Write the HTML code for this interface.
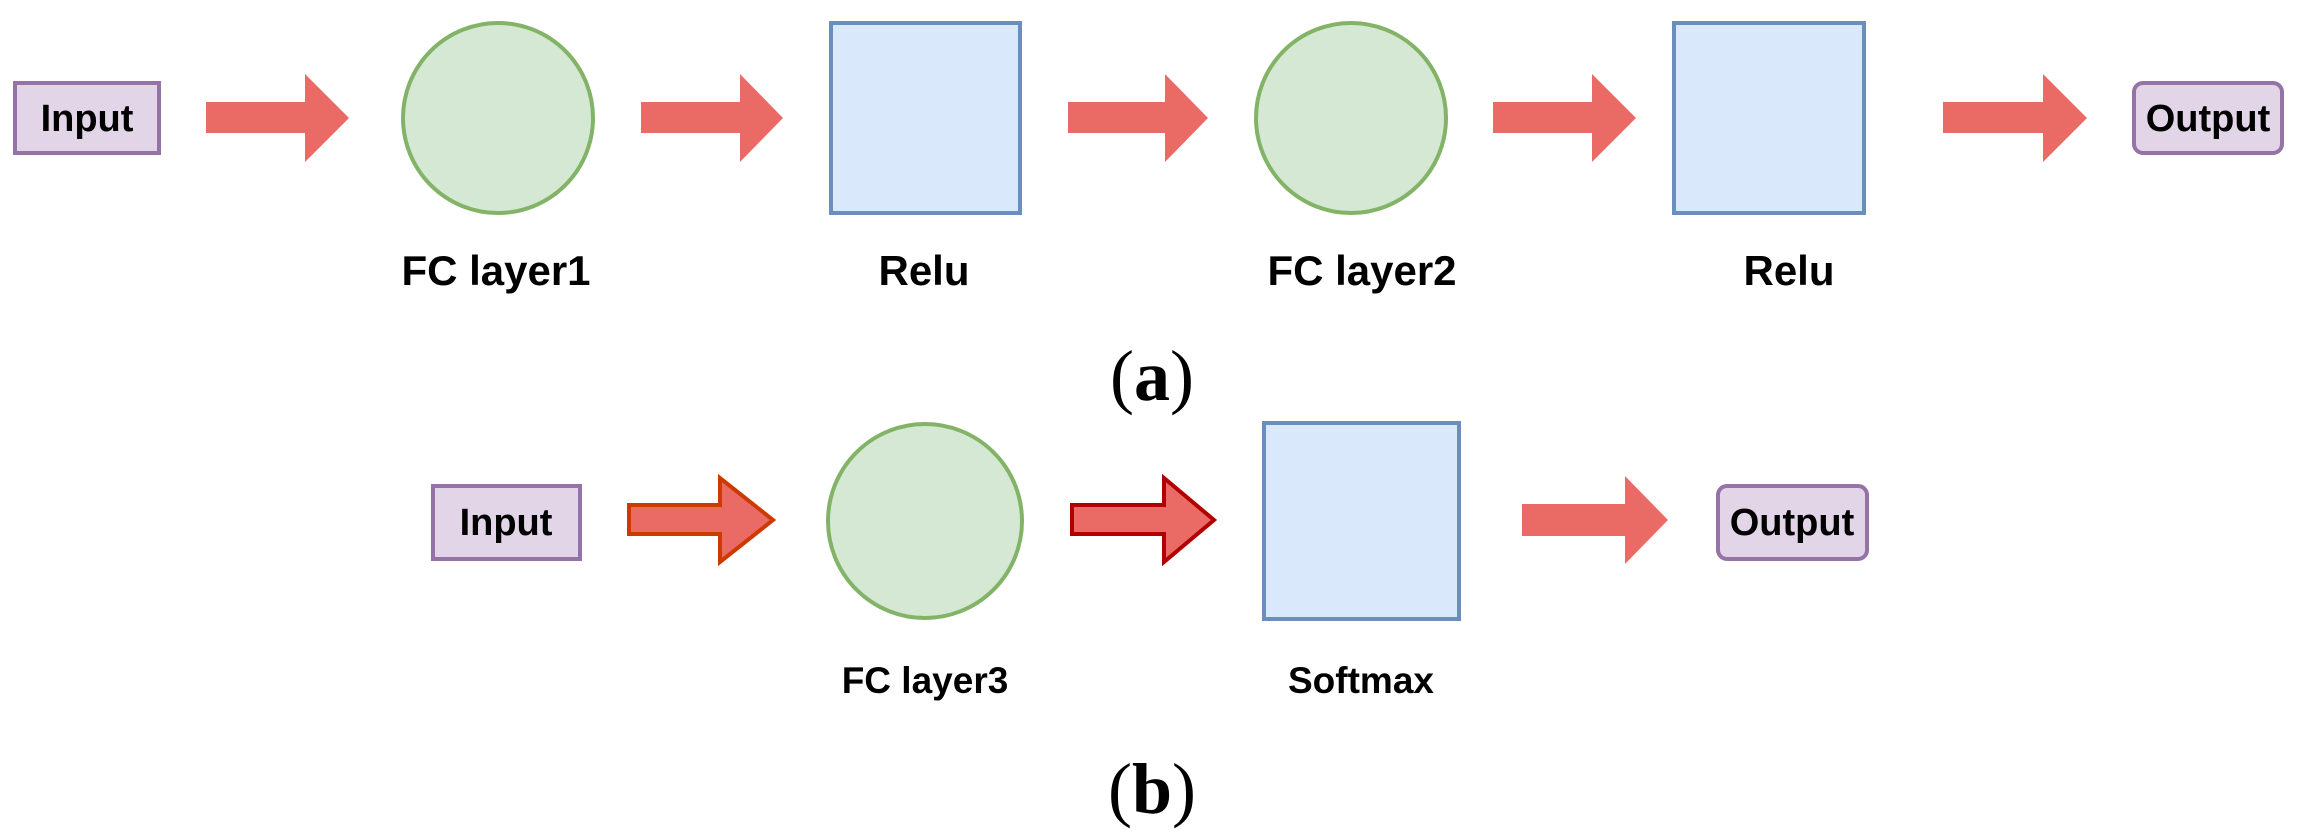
<!DOCTYPE html>
<html><head><meta charset="utf-8"><style>html,body{margin:0;padding:0;background:#fff;}svg{display:block}</style></head>
<body>
<svg width="2306" height="840" viewBox="0 0 2306 840" xmlns="http://www.w3.org/2000/svg" font-family="Liberation Sans, Arial, sans-serif" font-weight="bold">
<defs>
<g id="arr"><polygon points="0,21 100,21 100,-8 143,36 100,80 100,51 0,51" transform="translate(0,-36)"/></g>
</defs>
<!-- (a) row -->
<rect x="15" y="83" width="144" height="70" fill="#e1d5e7" stroke="#9673a6" stroke-width="4"/>
<text x="87" y="131" font-size="38" text-anchor="middle" fill="#000">Input</text>
<g fill="#ea6b66">
<polygon points="206,102 305,102 305,74 349,118 305,162 305,133 206,133"/>
<polygon points="641,102 740,102 740,74 783,118 740,162 740,133 641,133"/>
<polygon points="1068,102 1165,102 1165,74 1208,118 1165,162 1165,133 1068,133"/>
<polygon points="1493,102 1592,102 1592,74 1636,118 1592,162 1592,133 1493,133"/>
<polygon points="1943,102 2043,102 2043,74 2087,118 2043,162 2043,133 1943,133"/>
</g>
<ellipse cx="498" cy="118" rx="95" ry="95" fill="#d5e8d4" stroke="#82b366" stroke-width="4"/>
<rect x="831" y="23" width="189" height="190" fill="#dae8fc" stroke="#6c8ebf" stroke-width="4"/>
<ellipse cx="1351" cy="118" rx="95" ry="95" fill="#d5e8d4" stroke="#82b366" stroke-width="4"/>
<rect x="1674" y="23" width="190" height="190" fill="#dae8fc" stroke="#6c8ebf" stroke-width="4"/>
<rect x="2134" y="83" width="148" height="70" rx="9" fill="#e1d5e7" stroke="#9673a6" stroke-width="4"/>
<text x="2208" y="131" font-size="38" text-anchor="middle" fill="#000">Output</text>
<g font-size="42" text-anchor="middle" fill="#000">
<text x="496" y="285">FC layer1</text>
<text x="924" y="285">Relu</text>
<text x="1362" y="285">FC layer2</text>
<text x="1789" y="285">Relu</text>
</g>
<text x="1152" y="400" font-size="72" text-anchor="middle" font-family="Liberation Serif, serif" font-weight="normal" fill="#000">(<tspan font-weight="bold">a</tspan>)</text>
<!-- (b) row -->
<rect x="433" y="486" width="147" height="73" fill="#e1d5e7" stroke="#9673a6" stroke-width="4"/>
<text x="506" y="535" font-size="38" text-anchor="middle" fill="#000">Input</text>
<polygon points="629,505 720,505 720,478 773,520 720,562 720,534 629,534" fill="#ea6b66" stroke="#cc3a00" stroke-width="4"/>
<polygon points="1072,505 1164,505 1164,478 1214,520 1164,562 1164,534 1072,534" fill="#ea6b66" stroke="#b20000" stroke-width="4"/>
<polygon points="1522,504 1625,504 1625,476 1668,520 1625,564 1625,536 1522,536" fill="#ea6b66"/>
<ellipse cx="925" cy="521" rx="97" ry="97" fill="#d5e8d4" stroke="#82b366" stroke-width="4"/>
<rect x="1264" y="423" width="195" height="196" fill="#dae8fc" stroke="#6c8ebf" stroke-width="4"/>
<rect x="1718" y="486" width="149" height="73" rx="9" fill="#e1d5e7" stroke="#9673a6" stroke-width="4"/>
<text x="1792" y="535" font-size="38" text-anchor="middle" fill="#000">Output</text>
<g font-size="37" text-anchor="middle" fill="#000">
<text x="925" y="693">FC layer3</text>
<text x="1361" y="693">Softmax</text>
</g>
<text x="1152" y="813" font-size="72" text-anchor="middle" font-family="Liberation Serif, serif" font-weight="normal" fill="#000">(<tspan font-weight="bold">b</tspan>)</text>
</svg>
</body></html>
